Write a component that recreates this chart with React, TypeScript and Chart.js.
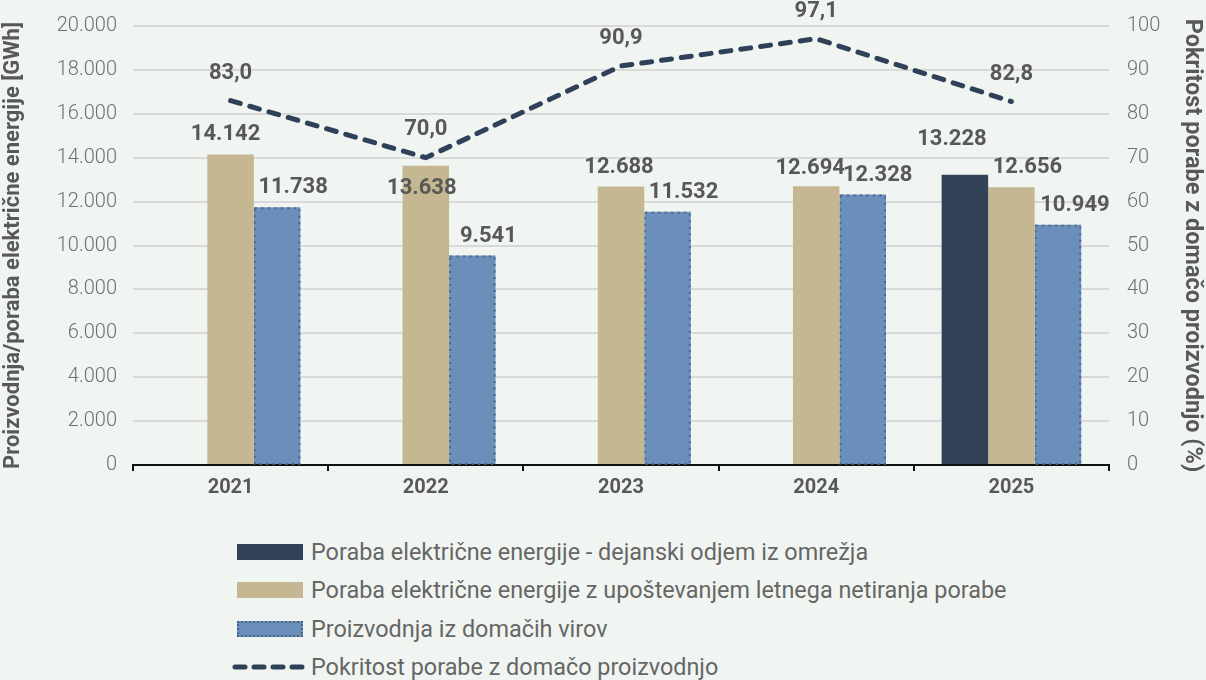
import React, { useEffect, useRef } from "react";
import { Chart, registerables } from "chart.js";

Chart.register(...registerables);

const categories = ["2021", "2022", "2023", "2024", "2025"];
const actualConsumption = [null, null, null, null, 13228];
const nettedConsumption = [14142, 13638, 12688, 12694, 12656];
const domesticProduction = [11738, 9541, 11532, 12328, 10949];
const coverage = [83.0, 70.0, 90.9, 97.1, 82.8];
const leftTicks = { min: 0, max: 20000, step: 2000 };
const rightTicks = { min: 0, max: 100, step: 10 };

const seriesNames = [
  "Poraba električne energije - dejanski odjem iz omrežja",
  "Poraba električne energije z upoštevanjem letnega netiranja porabe",
  "Proizvodnja iz domačih virov",
  "Pokritost porabe z domačo proizvodnjo",
];
const leftTitle = "Proizvodnja/poraba električne energije [GWh]";
const rightTitle = "Pokritost porabe z domačo proizvodnjo (%)";

// label nudges (pixels) relative to each mark, per dataset index
const labelNudge: Record<number, { dx: number[]; dy: number[] }> = {
  0: { dx: [0, 0, 0, 0, 0], dy: [-27, -28, -27, -27, -27] },
  1: { dx: [0, 0, 0, 0, -13], dy: [0, 0, 0, 0, -35] },
  2: { dx: [-5, -4, -2, -6, 16], dy: [-20, 23, -19, -18, -20] },
  3: { dx: [16, 16, 16, 15, 17], dy: [-20, -19, -19, -19, -19] },
};

const C_DARK = "#324359";
const C_TAN = "#c5b792";
const C_BLUE = "#6b8fbb";
const C_BLUE_BORDER = "#4d6584";
const C_LINE = "#2f4059";
const C_TEXT = "#585858";
const C_TICK = "#6f6f6f";
const BG = "#f1f5f1";
const FONT = "Roboto, 'Noto Sans', sans-serif";

const fmtInt = (v: number) =>
  Math.round(v).toString().replace(/\B(?=(\d{3})+(?!\d))/g, ".");
const fmtDec = (v: number) => v.toFixed(1).replace(".", ",");

const labelPlugin = {
  id: "customLabels",
  afterDatasetDraw(chart: any, args: any) {
    if (args.index !== 3) return;
    const ctx = chart.ctx;
    ctx.save();
    ctx.strokeStyle = C_BLUE_BORDER;
    ctx.lineWidth = 2;
    ctx.setLineDash([2, 4.5]);
    args.meta.data.forEach((el: any) => {
      const { x, y, base, width } = el.getProps(["x", "y", "base", "width"], true);
      ctx.strokeRect(x - width / 2 + 1, y + 1, width - 2, base - y - 1);
    });
    ctx.restore();
  },
  afterDatasetsDraw(chart: any) {
    const ctx = chart.ctx;
    ctx.save();
    ctx.font = `bold 22px ${FONT}`;
    ctx.fillStyle = C_TEXT;
    ctx.textAlign = "center";
    ctx.textBaseline = "middle";
    [1, 2, 3].forEach((di) => {
      const meta = chart.getDatasetMeta(di);
      const ds = chart.data.datasets[di];
      meta.data.forEach((el: any, i: number) => {
        const v = ds.data[i];
        if (v == null) return;
        ctx.fillText(fmtInt(v), el.x + labelNudge[di].dx[i], el.y + labelNudge[di].dy[i]);
      });
    });
    const lm = chart.getDatasetMeta(0);
    lm.data.forEach((el: any, i: number) => {
      ctx.fillText(fmtDec(coverage[i]), el.x + labelNudge[0].dx[i], el.y + labelNudge[0].dy[i]);
    });
    ctx.restore();
  },
};

function LegendRow({ top, kind, text }: { top: number; kind: string; text: string }) {
  let swatch: React.ReactNode = null;
  if (kind === "line") {
    swatch = (
      <svg width={80} height={10} style={{ position: "absolute", left: 230, top: top - 5 }}>
        <line
          x1={5}
          y1={5}
          x2={76}
          y2={5}
          stroke={C_LINE}
          strokeWidth={5}
          strokeLinecap="round"
          strokeDasharray="10 9"
        />
      </svg>
    );
  } else {
    const bg = kind === "dark" ? C_DARK : kind === "tan" ? C_TAN : C_BLUE;
    swatch = (
      <div
        style={{
          position: "absolute",
          left: 237,
          top: top - 8,
          width: 66,
          height: 16,
          boxSizing: "border-box",
          background: bg,
          border: kind === "blue" ? `2px dotted ${C_BLUE_BORDER}` : "none",
        }}
      />
    );
  }
  return (
    <>
      {swatch}
      <div
        style={{
          position: "absolute",
          left: 311,
          top: top - 14,
          height: 28,
          lineHeight: "28px",
          fontFamily: FONT,
          fontSize: 23.4,
          color: "#666",
          whiteSpace: "nowrap",
        }}
      >
        {text}
      </div>
    </>
  );
}

export default function App() {
  const ref = useRef<HTMLCanvasElement>(null);
  useEffect(() => {
    document.body.style.margin = "0";
    const chart = new Chart(ref.current as HTMLCanvasElement, {
      type: "bar",
      data: {
        labels: categories,
        datasets: [
          {
            type: "line",
            label: seriesNames[3],
            data: coverage,
            yAxisID: "y1",
            borderColor: C_LINE,
            borderWidth: 5,
            borderDash: [10, 10],
            borderCapStyle: "round",
            pointRadius: 0,
            tension: 0,
            fill: false,
            order: 0,
          } as any,
          {
            label: seriesNames[0],
            data: actualConsumption,
            backgroundColor: C_DARK,
            yAxisID: "y",
            order: 1,
          },
          {
            label: seriesNames[1],
            data: nettedConsumption,
            backgroundColor: C_TAN,
            yAxisID: "y",
            order: 1,
          },
          {
            label: seriesNames[2],
            data: domesticProduction,
            backgroundColor: C_BLUE,
            yAxisID: "y",
            order: 1,
          },
        ],
      },
      options: {
        animation: false,
        responsive: false,
        maintainAspectRatio: false,
        layout: { padding: { top: 21, left: 0, right: 0, bottom: 0 } },
        datasets: { bar: { categoryPercentage: 0.715, barPercentage: 1 } },
        plugins: {
          legend: { display: false },
          tooltip: { enabled: false },
        },
        scales: {
          x: {
            grid: {
              display: true,
              drawOnChartArea: false,
              drawTicks: true,
              tickLength: 6,
              color: "#111",
              lineWidth: 2,
              offset: true,
            },
            border: { display: true, color: "#111", width: 2 },
            ticks: {
              font: { family: FONT, size: 20, weight: "bold" },
              color: C_TEXT,
              padding: 5,
            },
            afterFit: (s: any) => {
              s.height = 55;
            },
          },
          y: {
            position: "left",
            min: leftTicks.min,
            max: leftTicks.max,
            ticks: {
              stepSize: leftTicks.step,
              font: { family: FONT, size: 20, weight: "300" },
              color: C_TICK,
              padding: 16,
              callback: (v: any) => fmtInt(Number(v)),
            },
            grid: { color: "#d9d9d9", lineWidth: 2, drawTicks: false },
            border: { display: false },
            title: {
              display: true,
              text: leftTitle,
              font: { family: FONT, size: 22, weight: "bold" },
              color: C_TEXT,
              padding: { top: 0, bottom: 0 },
            },
            afterFit: (s: any) => {
              s.width = 133;
            },
          },
          y1: {
            position: "right",
            min: rightTicks.min,
            max: rightTicks.max,
            ticks: {
              stepSize: rightTicks.step,
              font: { family: FONT, size: 20, weight: "300" },
              color: C_TICK,
              padding: 18,
            },
            grid: { drawOnChartArea: false, drawTicks: false },
            border: { display: false },
            title: {
              display: true,
              text: rightTitle,
              font: { family: FONT, size: 23.5, weight: "bold" },
              color: C_TEXT,
              padding: { top: 0, bottom: 2 },
            },
            afterFit: (s: any) => {
              s.width = 97;
            },
          },
        },
      },
      plugins: [labelPlugin],
    });
    return () => chart.destroy();
  }, []);

  return (
    <div
      style={{
        position: "relative",
        width: 1206,
        height: 680,
        background: BG,
        overflow: "hidden",
      }}
    >
      <canvas ref={ref} width={1206} height={524} style={{ position: "absolute", left: 0, top: -4 }} />
      <LegendRow top={552} kind="dark" text={seriesNames[0]} />
      <LegendRow top={590} kind="tan" text={seriesNames[1]} />
      <LegendRow top={629} kind="blue" text={seriesNames[2]} />
      <LegendRow top={667} kind="line" text={seriesNames[3]} />
    </div>
  );
}
